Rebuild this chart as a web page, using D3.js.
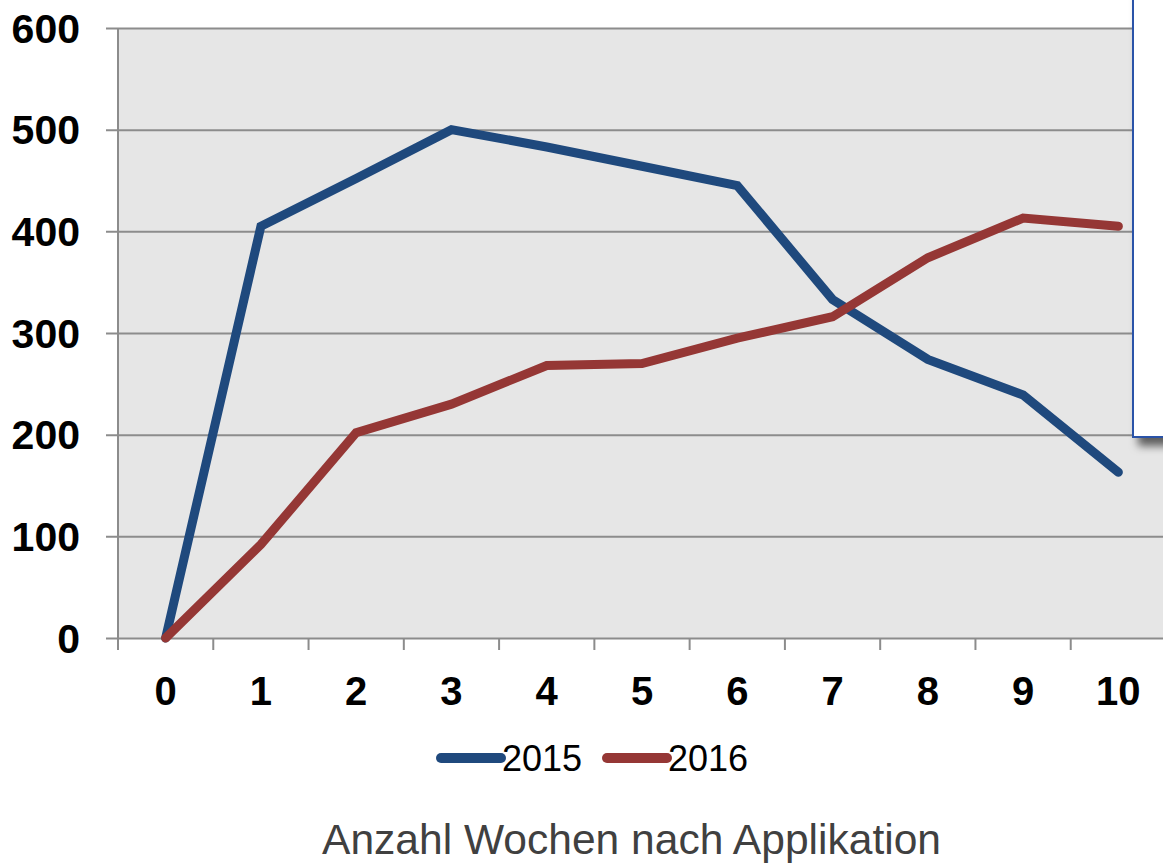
<!DOCTYPE html>
<html>
<head>
<meta charset="utf-8">
<script src="https://cdn.jsdelivr.net/npm/d3@7"></script>
<style>
  html, body { margin: 0; padding: 0; background: #ffffff; }
  svg { display: block; }
</style>
</head>
<body>
<svg id="chart" width="1163" height="864"></svg>
<script>
const categories = ["0","1","2","3","4","5","6","7","8","9","10"];
const series2015 = [0, 405, 452, 500, 483, 464, 445, 333, 274, 239, 163];
const series2016 = [0, 92, 202, 230, 268, 270, 295, 316, 374, 413, 405];
const yTicks = [0, 100, 200, 300, 400, 500, 600];
const seriesNames = ["2015", "2016"];
const seriesColors = ["#1f497d", "#953735"];
const axisTitle = "Anzahl Wochen nach Applikation";

const svg = d3.select("#chart");
const plot = { left: 118, top: 28, right: 1166, bottom: 638 };

const x = d3.scaleBand().domain(categories).range([plot.left, plot.right]).paddingInner(0).paddingOuter(0);
const y = d3.scaleLinear().domain([0, 600]).range([plot.bottom, plot.top]);

// defs: shadow
const defs = svg.append("defs");
const f = defs.append("filter").attr("id", "shadow").attr("x", "-20%").attr("y", "-20%").attr("width", "150%").attr("height", "150%");
f.append("feDropShadow").attr("dx", 6).attr("dy", 8).attr("stdDeviation", 4).attr("flood-color", "#000").attr("flood-opacity", 0.6);

// plot background
svg.append("rect")
  .attr("x", plot.left).attr("y", plot.top)
  .attr("width", plot.right - plot.left).attr("height", plot.bottom - plot.top)
  .attr("fill", "#e6e6e6");

// gridlines + y ticks
const yAxis = d3.axisLeft(y).tickValues(yTicks).tickSize(-(plot.right - plot.left)).tickFormat("");
const gy = svg.append("g").attr("transform", `translate(${plot.left},0)`).call(yAxis);
gy.select(".domain").remove();
gy.selectAll(".tick line").attr("stroke", "#8c8c8c").attr("stroke-width", 2).attr("x1", -12);

// y labels
svg.append("g").selectAll("text").data(yTicks).join("text")
  .attr("x", 80).attr("y", d => y(d)).attr("dy", "0.36em")
  .attr("text-anchor", "end")
  .attr("font-family", "Liberation Sans, Arial, sans-serif")
  .attr("font-weight", "bold").attr("font-size", 41).attr("fill", "#000")
  .text(d => d);

// y axis line
svg.append("line")
  .attr("x1", plot.left).attr("x2", plot.left)
  .attr("y1", plot.top).attr("y2", plot.bottom + 12)
  .attr("stroke", "#8c8c8c").attr("stroke-width", 2);

// x ticks at band boundaries
const bounds = categories.map(c => x(c)).concat([x(categories[categories.length - 1]) + x.bandwidth()]);
svg.append("g").selectAll("line").data(bounds).join("line")
  .attr("x1", d => d).attr("x2", d => d)
  .attr("y1", plot.bottom).attr("y2", plot.bottom + 12)
  .attr("stroke", "#8c8c8c").attr("stroke-width", 2);

// x labels
svg.append("g").selectAll("text").data(categories).join("text")
  .attr("x", d => x(d) + x.bandwidth() / 2).attr("y", 705)
  .attr("text-anchor", "middle")
  .attr("font-family", "Liberation Sans, Arial, sans-serif")
  .attr("font-weight", "bold").attr("font-size", 40).attr("fill", "#000")
  .text(d => d);

// lines
const line = d3.line()
  .x((d, i) => x(categories[i]) + x.bandwidth() / 2)
  .y(d => y(d));

[series2015, series2016].forEach((s, k) => {
  svg.append("path")
    .datum(s)
    .attr("d", line)
    .attr("fill", "none")
    .attr("stroke", seriesColors[k])
    .attr("stroke-width", 9)
    .attr("stroke-linecap", "round")
    .attr("stroke-linejoin", "miter");
});

// white box top right
svg.append("rect")
  .attr("x", 1133).attr("y", -10)
  .attr("width", 60).attr("height", 447)
  .attr("fill", "#ffffff")
  .attr("stroke", "#2a52a8").attr("stroke-width", 2)
  .attr("filter", "url(#shadow)");

// legend
const legendItems = [
  { name: seriesNames[0], color: seriesColors[0], x1: 441, x2: 501, tx: 502 },
  { name: seriesNames[1], color: seriesColors[1], x1: 607, x2: 667, tx: 668 }
];
const lg = svg.append("g");
lg.selectAll("line").data(legendItems).join("line")
  .attr("x1", d => d.x1).attr("x2", d => d.x2)
  .attr("y1", 758).attr("y2", 758)
  .attr("stroke", d => d.color).attr("stroke-width", 10).attr("stroke-linecap", "round");
lg.selectAll("text").data(legendItems).join("text")
  .attr("x", d => d.tx).attr("y", 771)
  .attr("font-family", "Liberation Sans, Arial, sans-serif")
  .attr("font-size", 36).attr("fill", "#000")
  .text(d => d.name);

// axis title
svg.append("text")
  .attr("x", 322).attr("y", 854)
  .attr("font-family", "Liberation Sans, Arial, sans-serif")
  .attr("font-size", 43).attr("fill", "#404040")
  .attr("textLength", 619).attr("lengthAdjust", "spacingAndGlyphs")
  .text(axisTitle);
</script>
</body>
</html>
